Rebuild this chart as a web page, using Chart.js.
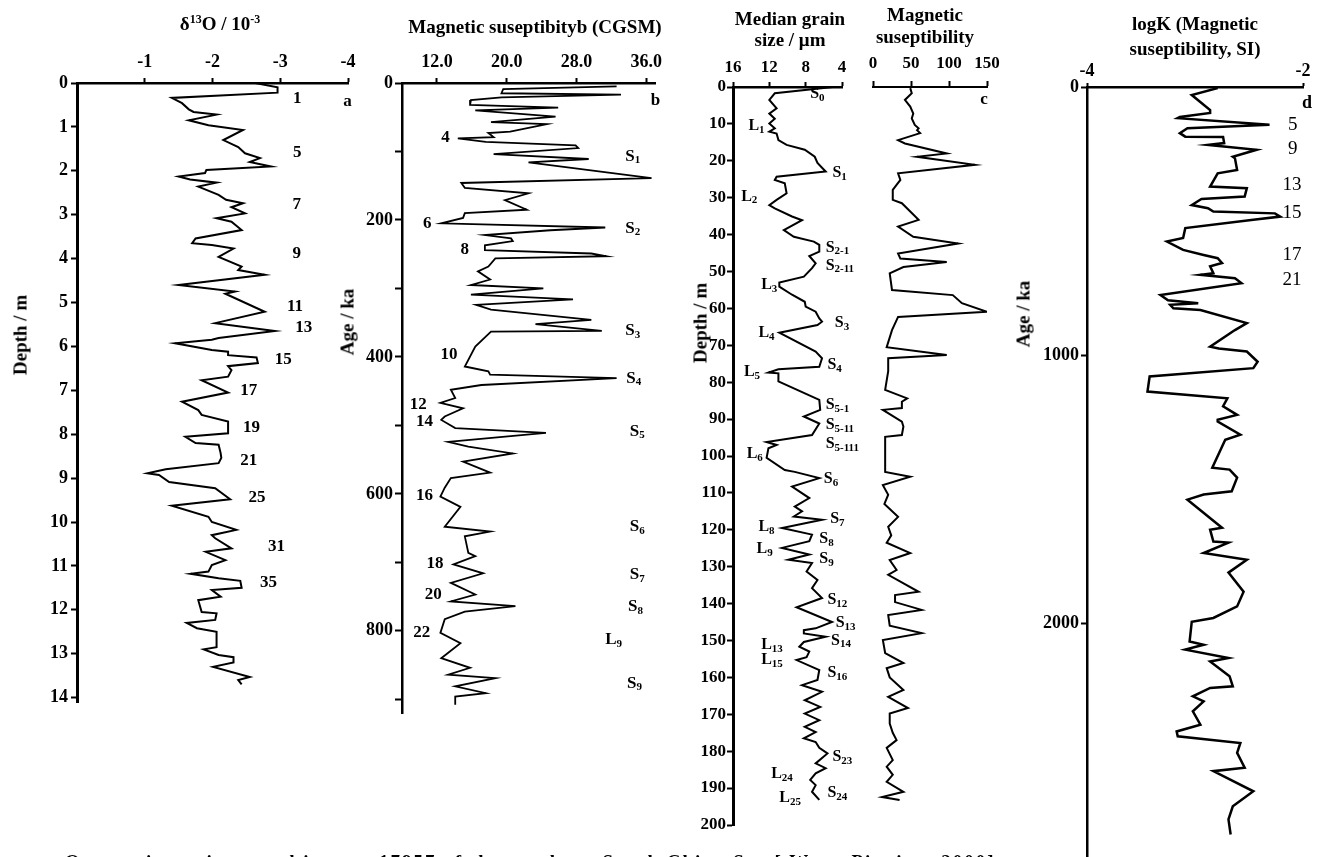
<!DOCTYPE html>
<html>
<head>
<meta charset="utf-8">
<script src="https://cdn.jsdelivr.net/npm/chart.js@4.4.1/dist/chart.umd.min.js"></script>
<style>
  body { margin: 0; width: 1320px; height: 857px; overflow: hidden; background: #fff;
         font-family: "Liberation Serif", "DejaVu Serif", serif; font-weight: bold; color: #000; position: relative; }
  canvas { position: absolute; top: 0; }
  .t { position: absolute; font-size: 19px; line-height: 1; white-space: nowrap; transform: translate(-50%, -50%); }
  .r { transform: translate(-50%, -50%) rotate(-90deg); }
  .t sup { font-size: 12px; vertical-align: 7px; }
  .cap { position: absolute; left: 65px; top: 851px; font-size: 19px; letter-spacing: 2px; white-space: nowrap; }
</style>
</head>
<body>
<canvas id="pa" width="370" height="857" style="left:0px"></canvas>
<canvas id="pb" width="340" height="857" style="left:340px"></canvas>
<canvas id="pc" width="210" height="857" style="left:660px"></canvas>
<canvas id="pm" width="150" height="857" style="left:860px"></canvas>
<canvas id="pd" width="310" height="900" style="left:1010px"></canvas>

<div class="t" style="left:220px;top:23px">δ<sup>13</sup>O / 10<sup>-3</sup></div>
<div class="t" style="left:535px;top:26px">Magnetic suseptibityb (CGSM)</div>
<div class="t" style="left:790px;top:18px">Median grain</div>
<div class="t" style="left:790px;top:39px">size / μm</div>
<div class="t" style="left:925px;top:14px">Magnetic</div>
<div class="t" style="left:925px;top:36px">suseptibility</div>
<div class="t" style="left:1195px;top:23px">logK (Magnetic</div>
<div class="t" style="left:1195px;top:48px">suseptibility, SI)</div>
<div class="t r" style="left:20px;top:335px">Depth / m</div>
<div class="t r" style="left:347px;top:322px">Age / ka</div>
<div class="t r" style="left:700px;top:323px">Depth / m</div>
<div class="t r" style="left:1023px;top:314px">Age / ka</div>
<div class="cap">Oxygen isotopic record in core 17957 of the southern South China Sea [ Wang Pinxian, 2000]</div>

<script>
// a: oxygen isotope vs depth
const aDepth = [0, 0.1, 0.22, 0.34, 0.46, 0.6, 0.66, 0.72, 0.85, 0.96, 1.07, 1.3, 1.46, 1.6, 1.71, 1.8, 1.9, 1.98, 2.05, 2.13,
  2.2, 2.27, 2.36, 2.55, 2.66, 2.74, 2.83, 2.97, 3.08, 3.16, 3.35, 3.54, 3.65, 3.69, 3.77, 3.96, 4.18, 4.26, 4.37, 4.6,
  4.75, 4.8, 5.21, 5.47, 5.65, 5.81, 5.85, 5.93, 6.08, 6.12, 6.2, 6.25, 6.38, 6.45, 6.54, 6.69, 6.77, 7.05, 7.26, 7.45,
  7.56, 7.71, 7.98, 8.06, 8.2, 8.24, 8.43, 8.54, 8.66, 8.8, 8.89, 8.93, 9.09, 9.23, 9.48, 9.63, 9.88, 10.0, 10.18, 10.3,
  10.37, 10.6, 10.68, 10.87, 10.98, 11.13, 11.18, 11.28, 11.34, 11.5, 11.55, 11.7, 11.78, 12.05, 12.08, 12.23, 12.3, 12.42, 12.5, 12.85,
  12.9, 13.03, 13.08, 13.2, 13.3, 13.53, 13.6, 13.7];
const aD13O = [-2.63, -2.96, -2.96, -1.40, -1.55, -1.65, -1.72, -2.06, -1.65, -1.94, -2.45, -2.16, -2.38, -2.48, -2.70, -2.55, -2.86, -1.91, -1.89, -1.50,
  -1.67, -2.06, -1.79, -2.09, -2.20, -2.45, -2.28, -2.48, -2.06, -2.28, -2.43, -1.75, -1.70, -1.99, -2.31, -2.09, -2.43, -2.38, -2.77, -1.50,
  -2.33, -2.19, -2.77, -2.04, -2.92, -2.09, -1.99, -1.45, -1.99, -2.23, -2.23, -2.65, -2.67, -2.23, -2.28, -2.23, -1.84, -2.23, -1.55, -1.79,
  -1.84, -2.23, -2.23, -1.60, -1.75, -2.09, -2.12, -2.13, -2.09, -1.31, -1.04, -1.21, -1.36, -2.04, -2.26, -1.40, -1.94, -1.99, -2.35, -1.99,
  -2.04, -2.28, -1.90, -2.19, -1.99, -1.94, -1.68, -2.09, -2.41, -2.43, -1.99, -2.12, -1.79, -1.84, -2.06, -2.04, -1.62, -1.77, -2.06, -2.06,
  -1.87, -2.09, -2.31, -2.31, -2.01, -2.55, -2.38, -2.43];

// b: magnetic susceptibility (CGSM) vs age
const bAge = [5, 9, 15, 17, 21, 25, 32, 36, 40, 49, 57, 60, 71, 73, 79, 81, 86, 91, 95, 104,
  111, 116, 139, 146, 153, 161, 171, 185, 190, 197, 205, 211, 215, 222, 227, 231, 237, 244, 249, 253,
  256, 268, 275, 287, 295, 300, 309, 316, 324, 331, 346, 352, 362, 363, 385, 414, 421, 426, 431, 441,
  448, 460, 467, 475, 487, 492, 504, 511, 524, 531, 541, 553, 569, 577, 591, 604, 619, 648, 655, 662,
  686, 691, 703, 716, 730, 747, 757, 764, 772, 783, 803, 818, 840, 854, 864, 869, 881, 891, 896, 908];
const bSus = [32.6, 19.6, 19.4, 33.1, 19.4, 15.9, 15.8, 25.9, 16.4, 25.6, 18.2, 24.6, 20.4, 17.9, 18.5, 14.4, 17.6, 27.9, 28.2, 18.5,
  29.4, 22.5, 36.6, 14.8, 15.2, 22.5, 19.8, 22.3, 15.2, 15.0, 12.5, 31.3, 25.0, 17.5, 20.5, 20.7, 17.5, 17.5, 29.7, 31.4,
  18.7, 17.9, 16.7, 18.1, 15.9, 24.2, 15.9, 27.6, 16.5, 18.2, 29.7, 23.3, 30.9, 18.2, 16.4, 15.2, 17.9, 18.1, 32.6, 17.1,
  13.6, 14.1, 12.4, 15.0, 12.9, 12.5, 14.1, 24.5, 13.3, 15.6, 20.7, 15.0, 18.1, 13.6, 12.9, 12.4, 14.7, 12.9, 18.1, 15.2,
  15.6, 16.4, 13.9, 17.3, 13.6, 16.4, 13.6, 21.0, 15.2, 12.9, 12.4, 14.7, 12.5, 15.8, 13.3, 18.7, 14.1, 17.6, 14.1, 14.1];

// c: median grain size vs depth
const cDepth = [0, 1.7, 3.5, 5.8, 7.2, 8.6, 9.9, 11.2, 12.1, 12.6, 14.4, 15.7, 17.0, 18.9, 20.6, 22.9, 24.3, 25.2, 26.1, 28.8,
  30.6, 32.0, 32.9, 35.1, 36.1, 38.8, 40.6, 41.9, 42.8, 44.6, 45.8, 47.8, 49.1, 51.4, 53.0, 54.1, 56.3, 58.2, 59.5, 60.9,
  62.7, 63.6, 64.5, 66.6, 71.7, 73.5, 75.8, 76.5, 77.4, 77.6, 79.8, 84.8, 87.5, 89.3, 91.2, 94.3, 96.2, 97.0, 97.9, 100.5,
  103.8, 104.3, 106.0, 108.3, 111.4, 113.7, 115.0, 116.4, 117.3, 119.5, 121.3, 123.1, 124.9, 126.7, 128.1, 129.0, 131.3, 133.6, 135.8, 138.5,
  141.0, 145.0, 146.7, 147.2, 148.1, 149.0, 150.4, 151.7, 153.0, 154.5, 155.3, 158.0, 160.7, 162.1, 163.9, 166.2, 168.0, 169.8, 171.6, 173.4,
  174.8, 176.5, 177.5, 179.1, 180.6, 183.3, 184.6, 186.0, 187.8, 189.2, 191.0, 193.2];
const cGrain = [5.0, 11.4, 12.0, 11.2, 12.0, 11.4, 12.0, 11.4, 12.0, 11.2, 11.0, 10.1, 8.1, 7.0, 6.7, 5.8, 11.2, 11.4, 10.3, 10.1,
  11.2, 12.0, 11.4, 9.5, 8.4, 10.4, 9.3, 7.1, 6.5, 6.5, 7.6, 6.9, 7.3, 8.2, 10.9, 10.9, 9.5, 8.1, 8.0, 6.9,
  6.5, 6.2, 6.7, 10.9, 6.9, 6.2, 6.5, 11.0, 12.1, 11.0, 11.0, 6.5, 6.4, 8.2, 6.5, 7.3, 12.3, 11.2, 12.1, 12.3,
  10.3, 9.2, 6.5, 9.5, 7.6, 9.2, 8.4, 9.3, 6.2, 10.6, 7.3, 7.6, 10.6, 7.6, 9.9, 7.3, 7.9, 6.7, 7.3, 6.2,
  9.0, 5.1, 6.9, 8.2, 8.2, 5.8, 8.2, 8.7, 7.6, 7.9, 9.0, 6.5, 6.7, 8.4, 6.2, 8.1, 6.4, 8.1, 6.5, 8.1,
  6.9, 8.2, 6.9, 6.5, 5.6, 6.9, 5.8, 6.9, 7.5, 6.9, 7.3, 6.5];

// c: magnetic susceptibility vs depth
const mDepth = [0.3, 1.7, 3.5, 5.3, 7.2, 8.5, 10.3, 11.2, 11.7, 12.5, 14.4, 15.3, 18.0, 18.9, 21.1, 23.4, 25.2, 26.5, 27.9, 30.6,
  31.5, 36.0, 37.8, 40.6, 42.4, 45.1, 46.5, 47.4, 48.8, 50.5, 55.0, 56.4, 58.6, 60.9, 62.3, 65.9, 70.5, 72.6, 73.5, 77.0,
  82.1, 84.4, 85.3, 87.0, 87.5, 90.7, 92.0, 94.3, 94.8, 104.3, 105.6, 107.9, 110.5, 113.0, 116.5, 119.2, 121.5, 123.5, 126.3, 128.2,
  130.9, 132.2, 136.8, 137.7, 139.6, 141.7, 143.1, 146.0, 148.0, 149.9, 153.4, 156.1, 157.5, 160.0, 163.4, 165.3, 168.3, 169.8, 172.5, 175.0,
  177.0, 179.1, 182.4, 184.2, 186.4, 188.3, 191.0, 192.4, 193.2];
const mSus = [49, 51, 42, 49, 53, 51, 55, 60, 58, 62, 33, 42, 97, 58, 134, 33, 36, 31, 26, 26,
  38, 60, 33, 53, 112, 33, 36, 97, 40, 22, 25, 105, 117, 150, 33, 25, 18, 97, 20, 20,
  16, 45, 38, 38, 13, 38, 40, 38, 16, 16, 49, 13, 20, 15, 33, 20, 24, 18, 49, 22,
  31, 20, 60, 29, 29, 64, 20, 22, 64, 13, 16, 40, 18, 22, 40, 20, 46, 22, 22, 26,
  31, 18, 26, 18, 26, 18, 40, 12, 35];

// d: logK vs age
const dAge = [4, 30, 86, 97, 112, 116, 141, 154, 172, 185, 186, 209, 216, 220, 234, 260, 266, 309, 322, 371,
  377, 408, 417, 440, 452, 464, 471, 483, 495, 526, 563, 576, 607, 626, 638, 656, 668, 694, 700, 713,
  731, 775, 795, 806, 812, 825, 831, 880, 906, 968, 975, 986, 1024, 1048, 1079, 1135, 1160, 1190, 1222, 1240,
  1247, 1296, 1315, 1419, 1426, 1456, 1507, 1519, 1538, 1643, 1650, 1694, 1698, 1737, 1762, 1810, 1881, 1936, 1979, 1993,
  2067, 2079, 2097, 2128, 2141, 2196, 2234, 2240, 2271, 2290, 2327, 2377, 2402, 2420, 2445, 2482, 2537, 2550, 2625, 2681,
  2730, 2786];
const dLogK = [-2.79, -3.03, -2.86, -2.86, -3.14, -3.16, -2.31, -3.07, -3.14, -3.09, -2.74, -2.73, -2.88, -2.78, -2.43, -2.65, -2.63, -2.61, -2.79, -2.86,
  -2.52, -2.54, -2.94, -3.03, -2.88, -2.83, -2.26, -2.21, -2.46, -3.09, -3.11, -3.26, -3.11, -2.92, -2.79, -2.75, -2.86, -2.83, -2.95, -2.63,
  -2.57, -3.32, -3.25, -2.97, -3.23, -3.20, -2.95, -2.52, -2.63, -2.86, -2.78, -2.52, -2.42, -2.46, -3.42, -3.44, -2.70, -2.74, -2.61, -2.79,
  -2.79, -2.58, -2.72, -2.84, -2.68, -2.61, -2.66, -2.92, -3.07, -2.75, -2.86, -2.83, -2.69, -2.92, -2.52, -2.69, -2.55, -2.61, -2.83, -3.03,
  -3.05, -2.92, -3.09, -2.69, -2.86, -2.68, -2.65, -2.86, -3.02, -2.92, -3.02, -2.95, -3.17, -3.16, -2.58, -2.61, -2.54, -2.83, -2.46, -2.65,
  -2.69, -2.67];

// tick labels
const aXTicks = [-1, -2, -3, -4];
const aYTicks = [0, 1, 2, 3, 4, 5, 6, 7, 8, 9, 10, 11, 12, 13, 14];
const bXTicks = [12, 20, 28, 36];
const bYTicks = [0, 100, 200, 300, 400, 500, 600, 700, 800, 900];
const cXTicks = [16, 12, 8, 4];
const cYTicks = [0, 10, 20, 30, 40, 50, 60, 70, 80, 90, 100, 110, 120, 130, 140, 150, 160, 170, 180, 190, 200];
const mXTicks = [0, 50, 100, 150];
const dXTicks = [-4, -2];
const dYTicks = [0, 1000, 2000];

// stage labels: text, subscript, value, depth/age
const aMarks = [['1', '', -3.19, 0.36], ['5', '', -3.19, 1.59], ['7', '', -3.18, 2.78], ['9', '', -3.18, 3.89],
  ['11', '', -3.1, 5.1], ['13', '', -3.22, 5.58], ['15', '', -2.92, 6.29], ['17', '', -2.41, 7.0],
  ['19', '', -2.45, 7.84], ['21', '', -2.41, 8.61], ['25', '', -2.53, 9.45], ['31', '', -2.82, 10.57],
  ['35', '', -2.7, 11.37], ['a', '', -3.93, 0.43]];
const bMarks = [['4', '', 12.5, 80], ['6', '', 10.4, 206], ['8', '', 14.7, 243], ['10', '', 12.4, 397],
  ['12', '', 8.9, 469], ['14', '', 9.6, 495], ['16', '', 9.6, 603], ['18', '', 10.8, 702],
  ['20', '', 10.6, 747], ['22', '', 9.3, 803], ['b', '', 36.5, 25],
  ['S', '1', 33.6, 107], ['S', '2', 33.6, 212], ['S', '3', 33.6, 362], ['S', '4', 33.7, 431],
  ['S', '5', 34.1, 509], ['S', '6', 34.1, 648], ['S', '7', 34.1, 718], ['S', '8', 33.9, 765],
  ['L', '9', 31.3, 813], ['S', '9', 33.8, 877]];
const cMarks = [['S', '0', 7.5, 1.9], ['L', '1', 14.3, 10.5], ['S', '1', 5.05, 23.4], ['L', '2', 15.1, 29.7],
  ['S', '2-1', 5.8, 43.5], ['S', '2-11', 5.8, 48.4], ['L', '3', 12.9, 53.7], ['S', '3', 4.8, 64],
  ['L', '4', 13.2, 66.6], ['S', '4', 5.6, 75.4], ['L', '5', 14.8, 77.2], ['S', '5-1', 5.8, 86.2],
  ['S', '5-11', 5.8, 91.6], ['S', '5-111', 5.8, 96.7], ['L', '6', 14.5, 99.5], ['S', '6', 6.0, 106.3],
  ['S', '7', 5.3, 117.1], ['L', '8', 13.2, 119.2], ['S', '8', 6.5, 122.5], ['L', '9', 13.4, 125.2],
  ['S', '9', 6.5, 127.9], ['S', '12', 5.6, 139], ['S', '13', 4.7, 145.3], ['S', '14', 5.2, 150],
  ['L', '13', 12.9, 151.2], ['L', '15', 12.9, 155.3], ['S', '16', 5.6, 158.8], ['S', '23', 5.05, 181.6],
  ['L', '24', 11.8, 186.2], ['S', '24', 5.6, 191.3], ['L', '25', 10.9, 192.7]];
const mMarks = [['c', '', 141, 3.5]];
const dMarks = [['5', '', -2.14, 142], ['9', '', -2.14, 231], ['13', '', -2.19, 365], ['15', '', -2.19, 470],
  ['17', '', -2.19, 626], ['21', '', -2.19, 719]];
const dLetter = [['d', '', -2.01, 60]];

const serif = '"Liberation Serif", "DejaVu Serif", serif';

function points(ys, xs) {
  return ys.map((y, i) => ({ x: xs[i], y: y }));
}

function drawMarks(chart, groups) {
  const ctx = chart.ctx;
  const sx = chart.scales.x, sy = chart.scales.y;
  ctx.save();
  ctx.fillStyle = '#000';
  ctx.textBaseline = 'middle';
  ctx.textAlign = 'left';
  groups.forEach(g => {
    g.list.forEach(m => {
      const px = sx.getPixelForValue(m[2]);
      const py = sy.getPixelForValue(m[3]);
      ctx.font = g.font;
      ctx.fillText(m[0], px, py);
      if (m[1]) {
        const w = ctx.measureText(m[0]).width;
        ctx.font = g.sub;
        ctx.fillText(m[1], px + w, py + 4);
      }
    });
  });
  ctx.restore();
}

function profile(o) {
  const ctx = document.getElementById(o.id).getContext('2d');
  return new Chart(ctx, {
    type: 'scatter',
    data: {
      datasets: [{
        data: o.data, showLine: true, borderColor: '#000', borderWidth: o.lw,
        pointRadius: 0, tension: 0, fill: false, borderJoinStyle: 'miter'
      }]
    },
    options: {
      responsive: false, animation: false, devicePixelRatio: 1,
      layout: { padding: o.pad },
      plugins: { legend: { display: false }, tooltip: { enabled: false } },
      scales: {
        x: {
          type: 'linear', position: 'top', min: o.xMin, max: o.xMax, reverse: o.xRev,
          afterBuildTicks: s => { s.ticks = o.xTicks.map(v => ({ value: v })); },
          afterFit: s => { s.height = o.xH; },
          border: { display: true, color: '#000', width: o.xBorder },
          grid: { display: true, drawOnChartArea: false, drawTicks: true, tickLength: o.xTickLen, tickWidth: 2, tickColor: '#000' },
          ticks: { color: '#000', padding: o.xPad, autoSkip: false, maxRotation: 0,
                   font: { family: serif, size: o.fs, weight: 'bold' }, callback: o.xFmt }
        },
        y: {
          type: 'linear', position: 'left', min: 0, max: o.yMax, reverse: true, display: o.yShow,
          afterBuildTicks: s => { s.ticks = o.yTicks.map(v => ({ value: v })); },
          afterFit: s => { s.width = o.yW; },
          border: { display: true, color: '#000', width: o.yBorder },
          grid: { display: true, drawOnChartArea: false, drawTicks: true, tickLength: o.yTickLen, tickWidth: 2, tickColor: '#000' },
          ticks: { color: '#000', padding: o.yPad, autoSkip: false,
                   font: { family: serif, size: o.fs, weight: 'bold' }, callback: o.yFmt }
        }
      }
    },
    plugins: [{ id: 'marks', afterDatasetsDraw: chart => drawMarks(chart, o.groups) }]
  });
}

const bold17 = 'bold 17px ' + serif;
const sub11 = 'bold 11px ' + serif;

profile({
  id: 'pa', data: points(aDepth, aD13O), lw: 2,
  pad: { left: 0, top: 0, right: 22, bottom: 155 },
  xMin: -4, xMax: 0, xRev: true, xTicks: aXTicks, xFmt: v => String(v), xH: 83, xTickLen: 5, xPad: 5, xBorder: 2.5,
  yMax: 14.1, yTicks: aYTicks, yFmt: v => String(v), yW: 77, yTickLen: 6, yPad: 3, yBorder: 3, yShow: true,
  fs: 18, groups: [{ list: aMarks, font: bold17, sub: sub11 }]
});

profile({
  id: 'pb', data: points(bAge, bSus), lw: 1.8,
  pad: { left: 0, top: 0, right: 25, bottom: 144 },
  xMin: 8, xMax: 37, xRev: false, xTicks: bXTicks, xFmt: v => v.toFixed(1), xH: 83, xTickLen: 5, xPad: 5, xBorder: 2.5,
  yMax: 920, yTicks: bYTicks, yFmt: v => (v % 200 === 0 ? String(v) : ''), yW: 62, yTickLen: 7, yPad: 2, yBorder: 2.5, yShow: true,
  fs: 18, groups: [{ list: bMarks, font: bold17, sub: sub11 }]
});

profile({
  id: 'pc', data: points(cDepth, cGrain), lw: 2,
  pad: { left: 0, top: 0, right: 28, bottom: 32 },
  xMin: 4, xMax: 16, xRev: true, xTicks: cXTicks, xFmt: v => String(v), xH: 87, xTickLen: 5, xPad: 4, xBorder: 2.5,
  yMax: 200, yTicks: cYTicks, yFmt: v => String(v), yW: 73, yTickLen: 6, yPad: 1, yBorder: 3, yShow: true,
  fs: 17, groups: [{ list: cMarks, font: 'bold 16px ' + serif, sub: sub11 }]
});

profile({
  id: 'pm', data: points(mDepth, mSus), lw: 2,
  pad: { left: 13, top: 0, right: 23, bottom: 32 },
  xMin: 0, xMax: 150, xRev: false, xTicks: mXTicks, xFmt: v => String(v), xH: 87, xTickLen: 6, xPad: 7, xBorder: 2,
  yMax: 200, yTicks: cYTicks, yFmt: v => String(v), yW: 0, yTickLen: 0, yPad: 0, yBorder: 0, yShow: false,
  fs: 17, groups: [{ list: mMarks, font: bold17, sub: sub11 }]
});

profile({
  id: 'pd', data: points(dAge, dLogK), lw: 2.5,
  pad: { left: 0, top: 0, right: 17, bottom: 43 },
  xMin: -4, xMax: -2, xRev: false, xTicks: dXTicks, xFmt: v => String(v), xH: 87, xTickLen: 4, xPad: 1, xBorder: 2.5,
  yMax: 2870, yTicks: dYTicks, yFmt: v => String(v), yW: 77, yTickLen: 6, yPad: 2, yBorder: 2.5, yShow: true,
  fs: 18, groups: [{ list: dMarks, font: '19px ' + serif, sub: sub11 }, { list: dLetter, font: 'bold 18px ' + serif, sub: sub11 }]
});
</script>
</body>
</html>
